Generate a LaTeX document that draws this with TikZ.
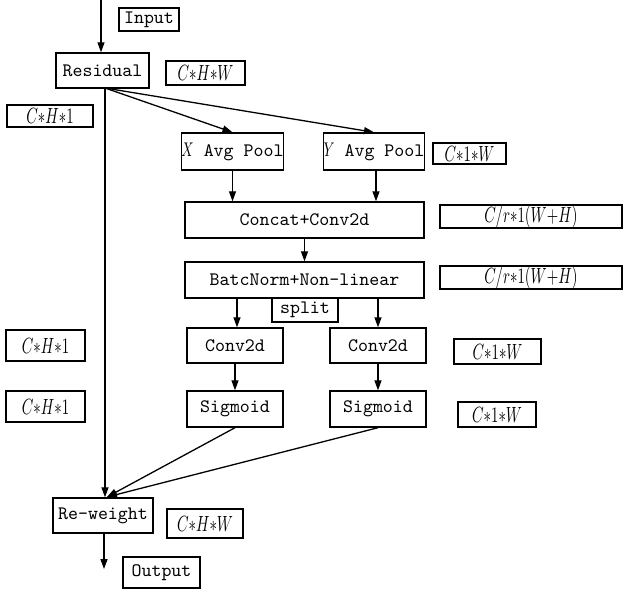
\documentclass[tikz,border=0pt]{standalone}
\usepackage{graphicx}
\usetikzlibrary{arrows.meta}
\newcommand{\dimlab}[1]{\scalebox{0.74}[1.1]{$#1$}}
\begin{document}
\begin{tikzpicture}[x=0.5pt,y=-0.5pt,
  box/.style={draw,line width=0.7pt,inner sep=0pt,font=\fontsize{9.5}{11}\selectfont\ttfamily},
  lab/.style={draw,line width=0.7pt,inner sep=0pt,font=\fontsize{10.3}{11}\selectfont},
  conn/.style={line width=0.65pt,-{Triangle[length=5pt,width=3.5pt]}},
  plain/.style={line width=0.65pt}]
\useasboundingbox (0,0) rectangle (623,590);
% main boxes
\node[box,minimum width=30pt,minimum height=11.5pt] (input) at (149,19.5) {Input};
\node[box,minimum width=46.5pt,minimum height=17.5pt] (residual) at (102.5,70.5) {Residual};
\node[box,minimum width=50.5pt,minimum height=18.5pt] (xpool) at (232.5,151.5) {\dimlab{X} Avg Pool};
\node[box,minimum width=50pt,minimum height=18.5pt] (ypool) at (374,151.5) {\dimlab{Y} Avg Pool};
\node[box,minimum width=119.5pt,minimum height=18pt] (concat) at (304.5,220) {Concat+Conv2d};
\node[box,minimum width=119.5pt,minimum height=18pt] (bn) at (304.5,280) {BatcNorm+Non-linear};
\node[box,minimum width=33pt,minimum height=12pt] (split) at (305,310) {split};
\node[box,minimum width=48pt,minimum height=17.5pt] (conv1) at (235,345.5) {Conv2d};
\node[box,minimum width=48pt,minimum height=17.5pt] (conv2) at (378,345.5) {Conv2d};
\node[box,minimum width=48pt,minimum height=18pt] (sig1) at (235,409) {Sigmoid};
\node[box,minimum width=48pt,minimum height=18pt] (sig2) at (378,409) {Sigmoid};
\node[box,minimum width=50pt,minimum height=17.5pt] (reweight) at (103,515.5) {Re-weight};
\node[box,minimum width=38.5pt,minimum height=15.5pt] (output) at (161.5,572.5) {Output};
% dimension labels
\node[lab,minimum width=39.5pt,minimum height=12pt] (chw1) at (205.5,73) {\dimlab{C{\ast}H{\ast}W}};
\node[lab,minimum width=43pt,minimum height=11pt] (ch1a) at (50,116) {\dimlab{C{\ast}H{\ast}1}};
\node[lab,minimum width=36.5pt,minimum height=10.5pt] (c1w1) at (469.5,153.5) {\dimlab{C{\ast}1{\ast}W}};
\node[lab,minimum width=91pt,minimum height=11.5pt] (cr1) at (531,216.5) {\dimlab{C/r{\ast}1(W{+}H)}};
\node[lab,minimum width=91pt,minimum height=11.5pt] (cr2) at (531,277.5) {\dimlab{C/r{\ast}1(W{+}H)}};
\node[lab,minimum width=39.5pt,minimum height=15.5pt] (ch1b) at (45.5,345.5) {\dimlab{C{\ast}H{\ast}1}};
\node[lab,minimum width=39.5pt,minimum height=15.5pt] (ch1c) at (45.5,406.5) {\dimlab{C{\ast}H{\ast}1}};
\node[lab,minimum width=43.5pt,minimum height=12.5pt] (c1w2) at (497.5,351.5) {\dimlab{C{\ast}1{\ast}W}};
\node[lab,minimum width=39pt,minimum height=12.5pt] (c1w3) at (497,414.5) {\dimlab{C{\ast}1{\ast}W}};
\node[lab,minimum width=38pt,minimum height=14.5pt] (chw2) at (205,523.5) {\dimlab{C{\ast}H{\ast}W}};
% coordinates
\coordinate (in) at (101,0);
\coordinate (rb) at (105,88);
\coordinate (rw) at (107,497);
\coordinate (out) at (104,569);
% connectors
\draw[conn] (in) -- (in |- residual.north);
\draw[conn] (rb) -- (xpool.north);
\draw[conn] (rb) -- (ypool.north);
\draw[conn] (rb) -- (rb |- reweight.north);
\draw[conn] (xpool.south) -- (xpool.south |- concat.north);
\draw[conn] ([xshift=1pt]ypool.south) -- ([xshift=1pt]ypool.south |- concat.north);
\draw[conn] (concat.south) -- (bn.north);
\draw[conn] ([xshift=1pt]conv1.north |- bn.south) -- ([xshift=1pt]conv1.north);
\draw[conn] (conv2.north |- bn.south) -- (conv2.north);
\draw[conn] (conv1.south) -- (sig1.north);
\draw[conn] (conv2.south) -- (sig2.north);
\draw[conn] (sig1.south) -- (rw);
\draw[conn] (sig2.south) -- (rw);
\draw[conn] (reweight.south -| out) -- (out);
\end{tikzpicture}
\end{document}
